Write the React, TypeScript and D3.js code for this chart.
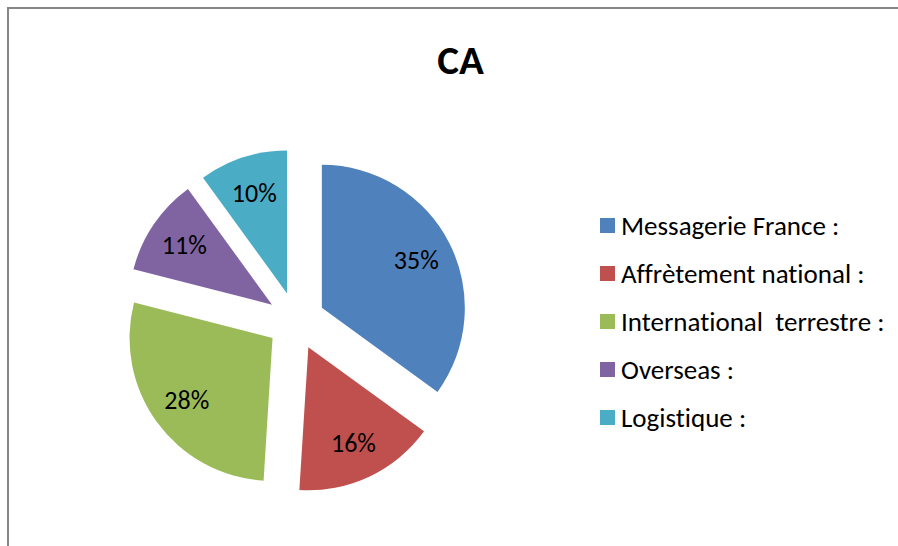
import React from "react";
import * as d3 from "d3";

const categories = [
  "Messagerie France :",
  "Affrètement national :",
  "International  terrestre :",
  "Overseas :",
  "Logistique :",
];
const values = [35, 16, 28, 11, 10];
const colors = ["#4F81BD", "#C0504D", "#9BBB59", "#8064A2", "#4BACC6"];
const title = "CA";

const W = 898;
const H = 546;
const FONT = "Carlito, Lato, 'Noto Sans', sans-serif";

export default function App() {
  const cx = 296;
  const cy = 321;
  const r = 143;
  const explode = 29;
  const labelR = 106;

  const total = d3.sum(values);
  const pie = d3
    .pie<number>()
    .sort(null)
    .value((d) => d)
    .startAngle(0)
    .endAngle(2 * Math.PI);
  const arcs = pie(values);
  const arcGen = d3.arc<d3.PieArcDatum<number>>().innerRadius(0).outerRadius(r);

  const legendX = 600;
  const legendY0 = 218;
  const legendStep = 48;

  return (
    <svg
      width={W}
      height={H}
      style={{ position: "fixed", left: 0, top: 0, background: "#fff", fontVariantLigatures: "none" }}
      fontFamily={FONT}
    >
      <rect x={0} y={0} width={W} height={H} fill="#fff" />
      <rect x={8} y={8} width={W + 50} height={H + 50} fill="#fff" stroke="#868686" strokeWidth={2} />
      <text x={460.5} y={73.5} textAnchor="middle" fontSize={41} fontWeight="bold" fill="#000">
        {title}
      </text>
      {arcs.map((a, i) => {
        const mid = (a.startAngle + a.endAngle) / 2;
        const dx = Math.sin(mid) * explode;
        const dy = -Math.cos(mid) * explode;
        const lx = Math.sin(mid) * labelR;
        const ly = -Math.cos(mid) * labelR;
        const pct = Math.round((a.value / total) * 100) + "%";
        return (
          <g key={i} transform={`translate(${cx + dx},${cy + dy})`}>
            <path d={arcGen(a) || ""} fill={colors[i]} />
            <text
              x={lx}
              y={ly}
              textAnchor="middle"
              dominantBaseline="central"
              fontSize={26}
              fill="#000"
            >
              {pct}
            </text>
          </g>
        );
      })}
      {categories.map((c, i) => (
        <g key={c} transform={`translate(${legendX},${legendY0 + i * legendStep})`}>
          <rect x={0} y={0} width={15} height={15} fill={colors[i]} />
          <text x={21} y={16.5} fontSize={27} fill="#000" style={{ whiteSpace: "pre" }} xmlSpace="preserve">
            {c}
          </text>
        </g>
      ))}
    </svg>
  );
}
